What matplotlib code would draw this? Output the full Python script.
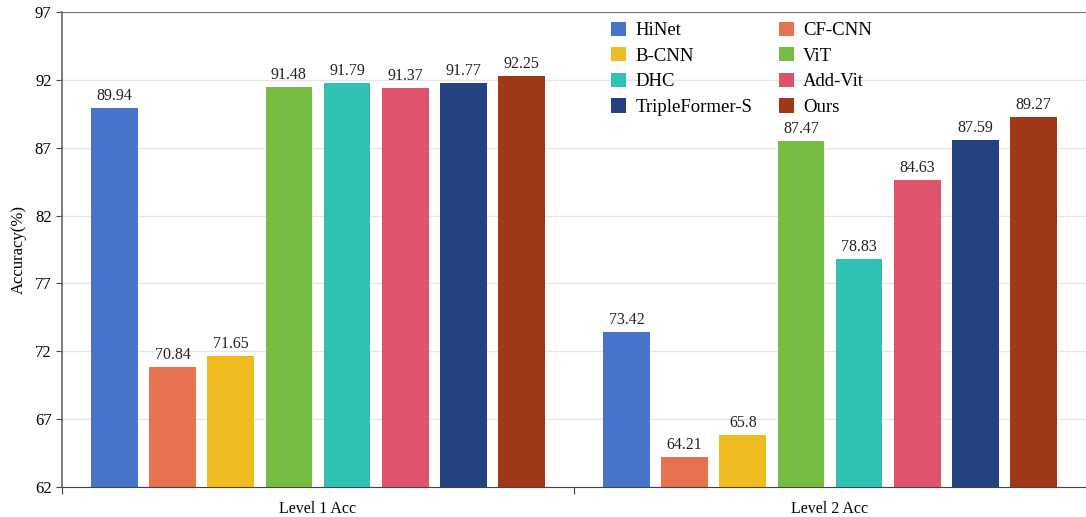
import numpy as np
import matplotlib
matplotlib.use("Agg")
import matplotlib.pyplot as plt

plt.rcParams['font.family'] = ['Liberation Serif', 'DejaVu Serif']

groups = ["Level 1 Acc", "Level 2 Acc"]
models = ["HiNet", "CF-CNN", "B-CNN", "ViT", "DHC", "Add-Vit",
          "TripleFormer-S", "Ours"]
level1 = [89.94, 70.84, 71.65, 91.48, 91.79, 91.37, 91.77, 92.25]
level2 = [73.42, 64.21, 65.8, 87.47, 78.83, 84.63, 87.59, 89.27]
colors = ["#4874CB", "#E6734F", "#F0BB21", "#78BD43",
          "#30C0B4", "#E0536C", "#244282", "#A03717"]
yticks = [62, 67, 72, 77, 82, 87, 92, 97]

fig = plt.figure(figsize=(10.86, 5.17), dpi=100)
ax = fig.add_axes([0.0571, 0.058, 0.9429, 0.9188])

x = np.arange(len(groups))
slot = 0.1136
width = 0.0914
values = np.array([level1, level2])
handles = []
for i, model in enumerate(models):
    pos = x + (i - (len(models) - 1) / 2) * slot
    bars = ax.bar(pos, values[:, i], width, bottom=0, color=colors[i],
                  label=model, zorder=3)
    handles.append(bars)
    for b, v in zip(bars, values[:, i]):
        ax.text(b.get_x() + b.get_width() / 2, v + 0.3, "%g" % v,
                ha="center", va="bottom", fontsize=11.5, color="#222222",
                zorder=4)

ax.set_ylim(62, 97)
ax.set_xlim(-0.5, 1.5)
ax.set_yticks(yticks)
ax.set_xticks([-0.5, 0.5, 1.5])
ax.set_xticklabels([])
ax.set_xticks(x, minor=True)
ax.set_xticklabels(groups, minor=True, fontsize=11.5)
ax.tick_params(axis="x", which="minor", length=0, pad=10)
ax.tick_params(axis="x", which="major", length=5, color="#444444")
ax.tick_params(axis="y", labelsize=12, length=4, color="#444444")
ax.yaxis.grid(True, color="#e6e6e6", linewidth=1, zorder=0)
ax.set_axisbelow(True)

ax.spines["right"].set_visible(False)
ax.spines["top"].set_color("#777777")
ax.spines["left"].set_color("#666666")
ax.spines["bottom"].set_color("#444444")
ax.spines["left"].set_linewidth(1.2)

ax.set_ylabel("Accuracy(%)", fontsize=12)
ax.yaxis.set_label_coords(-0.034, 0.5)

# legend is filled row by row in the reference
order = [0, 2, 4, 6, 1, 3, 5, 7]
fig.legend([handles[k] for k in order], [models[k] for k in order],
           loc="upper left", bbox_to_anchor=(0.547, 0.991), ncol=2,
           frameon=False, fontsize=13.5, handlelength=0.8, handleheight=0.8,
           handletextpad=0.5, columnspacing=1.42, labelspacing=0.42)

fig.savefig("out.png", dpi=100)
